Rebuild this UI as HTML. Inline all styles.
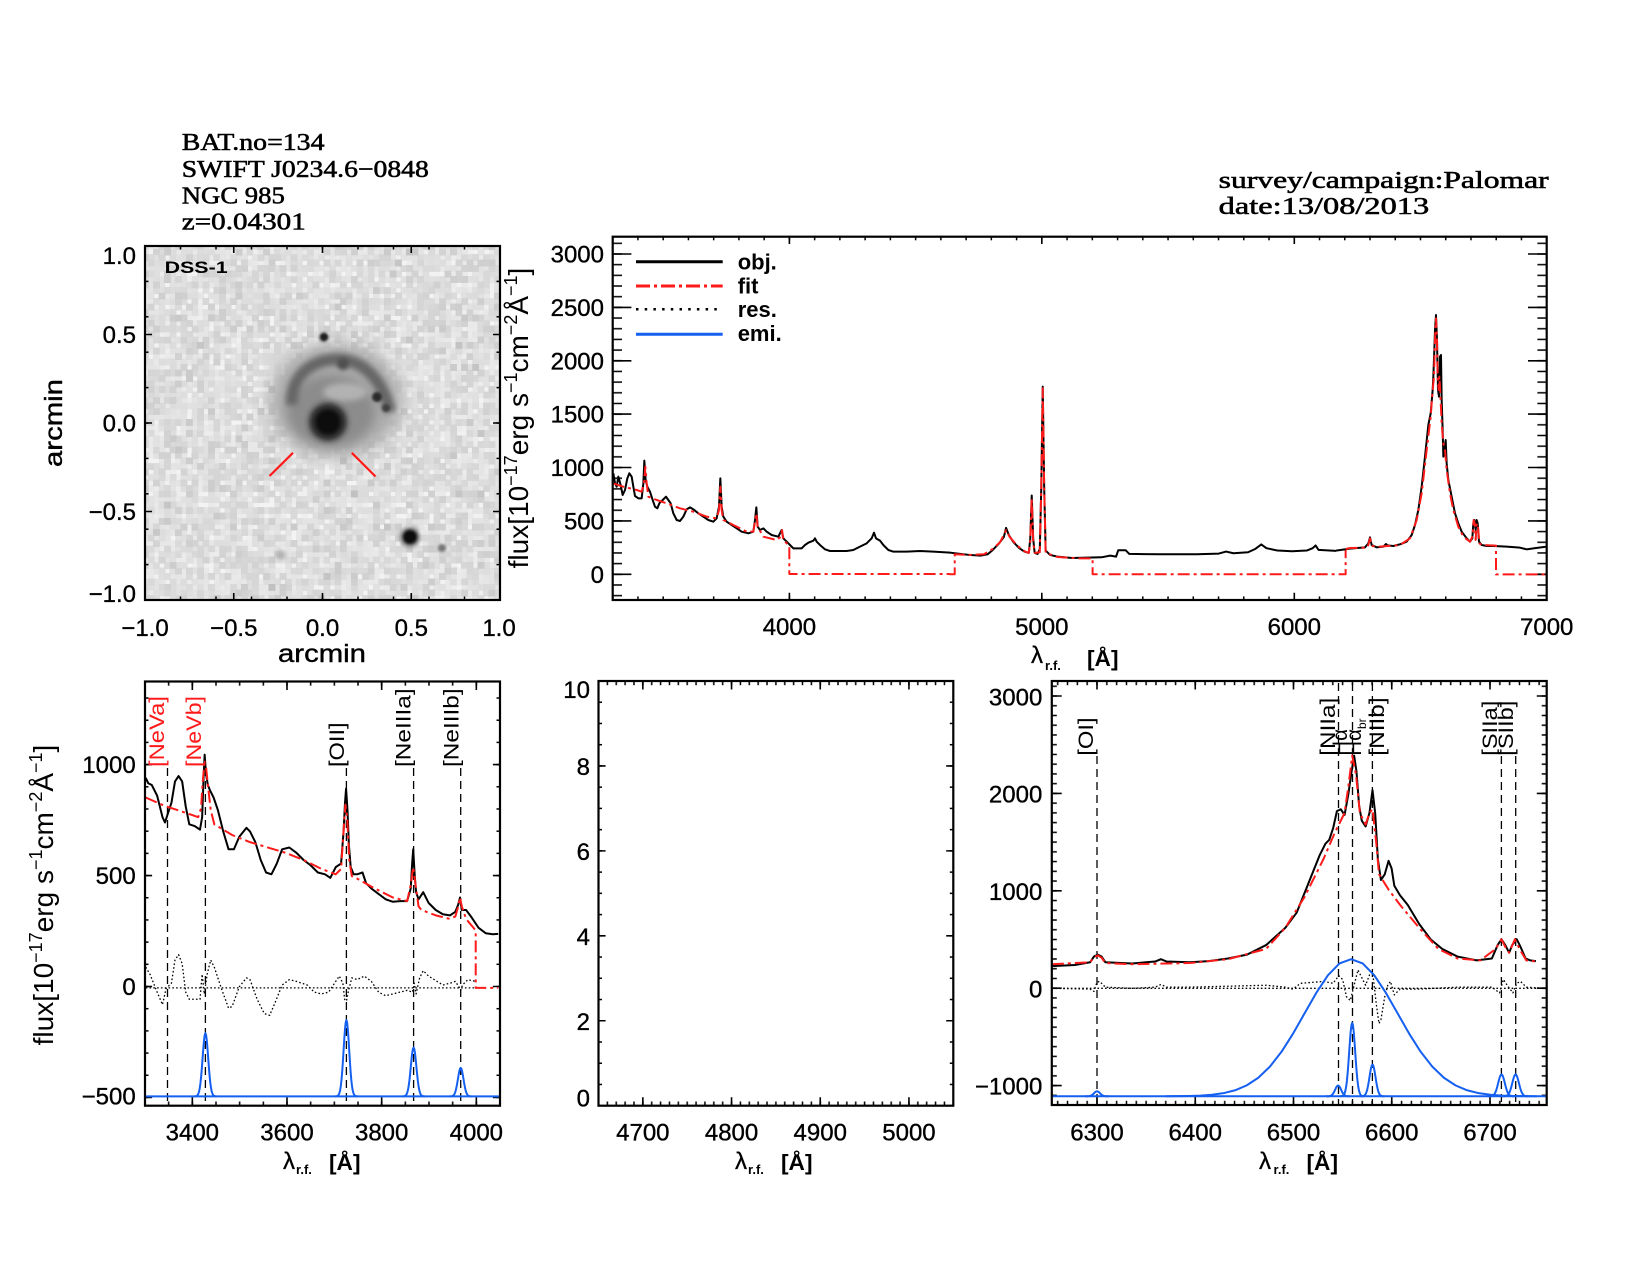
<!DOCTYPE html>
<html><head><meta charset="utf-8"><style>
html,body{margin:0;padding:0;background:#fff;}
svg{display:block;}
text{font-family:"Liberation Sans",sans-serif;fill:#000;}
.tr,.tm{font-size:24px;stroke:#000;stroke-width:0.35px;}
.tr{text-anchor:end;}
.tm{text-anchor:middle;}
.hd{font-family:"Liberation Serif",serif;font-size:24px;stroke:#000;stroke-width:0.55px;}
.lb{font-size:21px;}
.ns{vector-effect:non-scaling-stroke;fill:none;stroke-linejoin:round;}
.obj{stroke:#000;stroke-width:2;}
.fit{stroke:#ff1a1a;stroke-width:2;stroke-dasharray:12 4 3 4;}
.res{stroke:#000;stroke-width:1.3;stroke-dasharray:1.6 2.2;}
.emi{stroke:#1560f0;stroke-width:2;}
.vd{stroke:#000;stroke-width:1.3;stroke-dasharray:8 5;fill:none;}
.ax{fill:none;stroke:#000;stroke-width:2.2;}
.mj{fill:none;stroke:#000;stroke-width:1.6;}
</style></head><body>
<svg width="1650" height="1275" viewBox="0 0 1650 1275" xmlns="http://www.w3.org/2000/svg">
<defs>
<pattern id="p0x" patternUnits="userSpaceOnUse" x="127.25" y="0" width="35.5" height="1275"><rect x="17" y="0" width="1.5" height="1275"/></pattern>
<pattern id="p0y" patternUnits="userSpaceOnUse" x="0" y="228.3" width="1650" height="35.4"><rect x="0" y="16.95" width="1650" height="1.5"/></pattern>
<pattern id="p1x" patternUnits="userSpaceOnUse" x="600.078" y="0" width="25.2432" height="1275"><rect x="11.87" y="0" width="1.5" height="1275"/></pattern>
<pattern id="p1y" patternUnits="userSpaceOnUse" x="0" y="568.961" width="1650" height="10.677"><rect x="0" y="4.589" width="1650" height="1.5"/></pattern>
<pattern id="p2x" patternUnits="userSpaceOnUse" x="133.167" y="0" width="23.6667" height="1275"><rect x="11.083" y="0" width="1.5" height="1275"/></pattern>
<pattern id="p2y" patternUnits="userSpaceOnUse" x="0" y="975.405" width="1650" height="22.19"><rect x="0" y="10.345" width="1650" height="1.5"/></pattern>
<pattern id="p3x" patternUnits="userSpaceOnUse" x="594.065" y="0" width="8.87" height="1275"><rect x="3.685" y="0" width="1.5" height="1275"/></pattern>
<pattern id="p3y" patternUnits="userSpaceOnUse" x="0" y="1095.0825" width="1650" height="21.235"><rect x="0" y="9.8675" width="1650" height="1.5"/></pattern>
<pattern id="p4x" patternUnits="userSpaceOnUse" x="1092.0875" y="0" width="9.825" height="1275"><rect x="4.1625" y="0" width="1.5" height="1275"/></pattern>
<pattern id="p4y" patternUnits="userSpaceOnUse" x="0" y="983.33" width="1650" height="9.74"><rect x="0" y="4.12" width="1650" height="1.5"/></pattern>
<filter id="nz" filterUnits="userSpaceOnUse" primitiveUnits="userSpaceOnUse" x="145" y="246" width="355" height="354">
 <feTurbulence type="fractalNoise" baseFrequency="0.45" numOctaves="1" seed="7" result="t"/>
 <feColorMatrix in="t" type="matrix" values="0 0 0 0 0  0 0 0 0 0  0 0 0 0 0  0.45 0 0 0 -0.17" result="n"/>
 <feFlood flood-color="#000" flood-opacity="1" x="145" y="246" width="1" height="1" result="dot"/>
 <feComposite in="dot" in2="dot" operator="over" x="145" y="246" width="5.55" height="5.55" result="cell"/>
 <feTile in="cell" x="145" y="246" width="355" height="354" result="grid"/>
 <feComposite in="n" in2="grid" operator="in" result="pts"/>
 <feMorphology in="pts" operator="dilate" radius="2.8"/>
</filter>
<filter id="b8" x="-50%" y="-50%" width="200%" height="200%"><feGaussianBlur stdDeviation="8"/></filter>
<filter id="b6" x="-50%" y="-50%" width="200%" height="200%"><feGaussianBlur stdDeviation="5"/></filter>
<filter id="b4" x="-50%" y="-50%" width="200%" height="200%"><feGaussianBlur stdDeviation="3"/></filter>
<filter id="b3" x="-50%" y="-50%" width="200%" height="200%"><feGaussianBlur stdDeviation="3"/></filter>
<filter id="b2" x="-50%" y="-50%" width="200%" height="200%"><feGaussianBlur stdDeviation="2"/></filter>
<filter id="b1" x="-50%" y="-50%" width="200%" height="200%"><feGaussianBlur stdDeviation="1.2"/></filter>
<clipPath id="c0"><rect x="145" y="246" width="355" height="354"/></clipPath>
</defs>
<rect width="1650" height="1275" fill="#fff"/>

<text class="hd" x="181.8" y="150" textLength="142.7" lengthAdjust="spacingAndGlyphs">BAT.no=134</text>
<text class="hd" x="181.8" y="176.8" textLength="247" lengthAdjust="spacingAndGlyphs">SWIFT J0234.6−0848</text>
<text class="hd" x="181.8" y="203.6" textLength="103" lengthAdjust="spacingAndGlyphs">NGC 985</text>
<text class="hd" x="181.8" y="229.3" textLength="124" lengthAdjust="spacingAndGlyphs">z=0.04301</text>
<text class="hd" x="1218.7" y="188.2" textLength="330" lengthAdjust="spacingAndGlyphs">survey/campaign:Palomar</text>
<text class="hd" x="1218.7" y="214.2" textLength="210.5" lengthAdjust="spacingAndGlyphs">date:13/08/2013</text>

<!-- ===== Image panel ===== -->
<g clip-path="url(#c0)">
<rect x="145" y="246" width="355" height="354" fill="#f3f3f3"/>
<rect x="145" y="246" width="355" height="354" fill="#000" filter="url(#nz)"/>
<ellipse cx="336" cy="400" rx="66" ry="57" fill="#aaaaaa" filter="url(#b8)"/>
<ellipse cx="331" cy="411" rx="44" ry="36" fill="#8c8c8c" filter="url(#b6)"/>
<ellipse cx="345" cy="392" rx="22" ry="9" fill="#b2b2b2" filter="url(#b3)"/>
<path d="M292,405 C290,372 318,356 345,360 C368,364 384,385 390,412" fill="none" stroke="#666" stroke-width="12" filter="url(#b4)"/>
<path d="M348,428 L398,428" stroke="#404040" stroke-width="12" stroke-linecap="round" filter="url(#b3)"/>
<circle cx="343" cy="364" r="6" fill="#505050" filter="url(#b2)"/>
<circle cx="377" cy="397" r="5" fill="#2a2a2a" filter="url(#b1)"/>
<circle cx="386" cy="408" r="4" fill="#404040" filter="url(#b1)"/>
<circle cx="328" cy="422" r="19" fill="#262626" filter="url(#b3)"/>
<circle cx="328" cy="422" r="12" fill="#0c0c0c" filter="url(#b1)"/>
<circle cx="324" cy="337" r="4.5" fill="#1a1a1a" filter="url(#b1)"/>
<circle cx="410" cy="537" r="10" fill="#777" filter="url(#b2)"/>
<circle cx="410" cy="537" r="7" fill="#111" filter="url(#b1)"/>
<circle cx="442" cy="548" r="4" fill="#777" filter="url(#b1)"/>
<circle cx="281" cy="555" r="5" fill="#b0b0b0" filter="url(#b2)"/>
</g>
<path d="M269.5,476 L293,452.8 M351.8,452.8 L375.5,476.5" stroke="#ff1a1a" stroke-width="2.2" fill="none"/>
<text x="164.6" y="273" font-family="Liberation Serif, serif" font-weight="bold" font-size="17" textLength="63" lengthAdjust="spacingAndGlyphs">DSS-1</text>
<rect x="146" y="596.5" width="353" height="3.5" fill="url(#p0x)"/>
<rect x="146" y="246" width="353" height="3.5" fill="url(#p0x)"/>
<rect x="145" y="247" width="3.5" height="352" fill="url(#p0y)"/>
<rect x="496.5" y="247" width="3.5" height="352" fill="url(#p0y)"/>
<path class="mj" d="M233.75,600v-7M322.5,600v-7M411.25,600v-7M233.75,246v7M322.5,246v7M411.25,246v7M145,334.5h7M145,423h7M145,511.5h7M500,334.5h-7M500,423h-7M500,511.5h-7"/>
<rect class="ax" x="145" y="246" width="355" height="354"/>
<text class="tr" x="136" y="264">1.0</text>
<text class="tr" x="136" y="343">0.5</text>
<text class="tr" x="136" y="431.3">0.0</text>
<text class="tr" x="136" y="520">−0.5</text>
<text class="tr" x="136" y="602">−1.0</text>
<text class="tm" x="145" y="636">−1.0</text>
<text class="tm" x="233.75" y="636">−0.5</text>
<text class="tm" x="322.5" y="636">0.0</text>
<text class="tm" x="411.25" y="636">0.5</text>
<text class="tm" x="499" y="636">1.0</text>
<text x="278" y="662" font-size="25" stroke="#000" stroke-width="0.4" textLength="88" lengthAdjust="spacingAndGlyphs">arcmin</text>
<text transform="translate(62,467) rotate(-90)" font-size="25" stroke="#000" stroke-width="0.4" textLength="88" lengthAdjust="spacingAndGlyphs">arcmin</text>

<!-- ===== Top spectrum panel ===== -->
<rect x="614" y="596.4" width="931.4" height="3.6" fill="url(#p1x)"/>
<rect x="614" y="236.7" width="931.4" height="3.6" fill="url(#p1x)"/>
<rect x="612.7" y="238" width="9.3" height="360.7" fill="url(#p1y)"/>
<rect x="1537.4" y="238" width="9.3" height="360.7" fill="url(#p1y)"/>
<path class="mj" d="M789.4,600v-7.3M1041.8,600v-7.3M1294.3,600v-7.3M789.4,236.7v7.3M1041.8,236.7v7.3M1294.3,236.7v7.3M612.7,574.3h18.7M612.7,520.9h18.7M612.7,467.5h18.7M612.7,414.1h18.7M612.7,360.8h18.7M612.7,307.4h18.7M612.7,254h18.7M1546.7,574.3h-18.7M1546.7,520.9h-18.7M1546.7,467.5h-18.7M1546.7,414.1h-18.7M1546.7,360.8h-18.7M1546.7,307.4h-18.7M1546.7,254h-18.7"/>
<g transform="translate(500,220) scale(0.333333)">
<path class="ns obj" d="M340,760 L345,790 L350,800 L355,770 L362,795 L368,825 L375,810 L382,775 L388,760 L395,770 L400,800 L405,828 L415,835 L425,835 L430,790 L433,722 L437,780 L442,800 L450,815 L458,840 L465,860 L472,865 L478,850 L488,840 L498,830 L505,840 L512,850 L520,880 L530,900 L540,903 L550,890 L560,868 L570,862 L580,868 L595,880 L610,890 L625,900 L640,905 L650,895 L657,860 L661,775 L665,860 L670,890 L680,905 L695,915 L710,925 L725,935 L745,940 L760,935 L765,900 L769,862 L773,920 L780,930 L790,925 L800,935 L815,945 L835,950 L840,940 L845,930 L850,955 L860,965 L870,975 L880,985 L895,985 L905,985 L915,975 L925,968 L940,962 L945,955 L950,965 L960,975 L975,988 L990,993 L1010,993 L1040,993 L1060,990 L1080,980 L1100,970 L1115,955 L1122,938 L1128,955 L1140,962 L1150,975 L1165,990 L1180,995 L1220,995 L1260,993 L1300,995 L1350,998"/>
<path class="ns fit" d="M338,790 L370,800 L410,810 L425,815 L432,790 L436,740 L440,790 L445,830 L470,840 L500,850 L540,865 L580,875 L620,890 L650,895 L657,870 L661,800 L665,870 L670,900 L700,915 L740,935 L760,935 L765,905 L769,880 L773,920 L790,950 L830,960 L843,950 L846,930 L850,960 L865,975 L868,980 L868,1062 L1350,1062"/>
</g>
<g transform="translate(500,150) scale(0.73342,0.33801)">
<path class="ns obj" d="M613,1191 L620,1193 L640,1198 L655,1200 L665,1196 L672,1183 L680,1165 L687,1145 L690,1118 L694,1140 L700,1160 L708,1178 L715,1188 L721,1192 L723,1150 L725,1022 L727,1150 L729,1192 L733,1195 L736,1180 L738,1000 L740,700 L742,1000 L744,1185 L750,1198 L760,1203 L780,1207 L800,1206 L820,1205 L832,1200 L840,1203 L843,1184 L853,1184 L858,1195 L900,1196 L950,1196 L980,1194 L990,1188 L1000,1193 L1020,1190 L1030,1180 L1038,1167 L1045,1178 L1060,1185 L1080,1187 L1100,1185 L1108,1178 L1112,1170 L1116,1183 L1140,1186"/>
<path class="ns fit" d="M613,1255 L620,1255 L620,1196 L640,1198 L660,1196 L672,1180 L682,1160 L690,1125 L695,1145 L705,1170 L715,1187 L721,1192 L723,1160 L725,1030 L727,1160 L729,1192 L736,1190 L738,1000 L740,705 L742,1000 L744,1192 L760,1204 L790,1208 L808,1208 L808,1255 L1153,1255 L1153,1181"/>
</g>
<g transform="translate(1300,290) scale(0.333333)">
<path class="ns obj" d="M108,782 L150,776 L195,772 L205,760 L210,742 L215,765 L230,772 L250,770 L258,762 L262,766 L280,768 L300,763 L320,755 L335,735 L345,705 L355,660 L365,590 L375,500 L385,405 L392,370 L398,300 L400,260 L403,180 L405,120 L408,75 L411,150 L414,300 L417,320 L420,200 L423,195 L425,330 L428,420 L430,500 L433,480 L437,450 L440,520 L445,570 L455,620 L465,670 L475,700 L485,725 L500,745 L510,755 L517,745 L520,700 L523,690 L527,720 L530,690 L533,700 L537,755 L545,765 L560,768 L580,768 L620,770 L660,773 L680,778 L700,775 L740,770"/>
<path class="ns fit" d="M137,777 L150,774 L200,773 L205,765 L210,745 L215,768 L240,770 L300,765 L330,745 L350,690 L365,610 L380,480 L392,380 L398,300 L402,260 L405,150 L408,85 L411,150 L413,260 L416,300 L418,260 L420,290 L425,400 L430,460 L435,480 L440,540 L450,610 L460,660 L475,710 L490,740 L510,755 L517,740 L521,690 L524,700 L527,750 L530,700 L534,710 L538,760 L545,765 L588,767 L588,853 L740,853"/>
</g>
<rect class="ax" x="612.7" y="236.7" width="934" height="363.3"/>
<path d="M636,261.7H722.7" stroke="#000" stroke-width="3"/>
<path d="M636,286H722.7" stroke="#ff1a1a" stroke-width="3" stroke-dasharray="14 4 3 4"/>
<path d="M636,309.3H722.7" stroke="#000" stroke-width="2.5" stroke-dasharray="2.5 6.2"/>
<path d="M636,334.3H722.7" stroke="#1560f0" stroke-width="3"/>
<text x="737.7" y="269.5" font-size="22" font-weight="bold">obj.</text>
<text x="737.7" y="293.5" font-size="22" font-weight="bold">fit</text>
<text x="737.7" y="317" font-size="22" font-weight="bold">res.</text>
<text x="737.7" y="341" font-size="22" font-weight="bold">emi.</text>
<text class="tr" x="604" y="582.8">0</text>
<text class="tr" x="604" y="529.4">500</text>
<text class="tr" x="604" y="476">1000</text>
<text class="tr" x="604" y="422.6">1500</text>
<text class="tr" x="604" y="369.3">2000</text>
<text class="tr" x="604" y="315.9">2500</text>
<text class="tr" x="604" y="262.5">3000</text>
<text class="tm" x="789.4" y="635">4000</text>
<text class="tm" x="1041.8" y="635">5000</text>
<text class="tm" x="1294.3" y="635">6000</text>
<text class="tm" x="1546.7" y="635">7000</text>
<text x="1031" y="663" font-size="24" stroke="#000" stroke-width="0.3">λ</text>
<text x="1045" y="670" font-size="13" font-weight="bold">r.f.</text>
<text x="1087" y="666" font-family="Liberation Serif, serif" font-weight="bold" font-size="22" textLength="31.5" lengthAdjust="spacingAndGlyphs">[Å]</text>
<text transform="translate(528,418) rotate(-90)" text-anchor="middle" font-size="28">flux[10<tspan font-size="18" dy="-11">−17</tspan><tspan dy="11">erg s</tspan><tspan font-size="18" dy="-11">−1</tspan><tspan dy="11">cm</tspan><tspan font-size="18" dy="-11">−2</tspan><tspan dy="11">Å</tspan><tspan font-size="18" dy="-11">−1</tspan><tspan dy="11">]</tspan></text>

<!-- ===== Bottom-left panel ===== -->
<rect x="146" y="1101.5" width="353" height="4.2" fill="url(#p2x)"/>
<rect x="146" y="681.5" width="353" height="4.2" fill="url(#p2x)"/>
<rect x="145" y="683" width="3.5" height="421.5" fill="url(#p2y)"/>
<rect x="496.5" y="683" width="3.5" height="421.5" fill="url(#p2y)"/>
<path class="mj" d="M192.33,1105.7v-8.5M287,1105.7v-8.5M381.67,1105.7v-8.5M476.33,1105.7v-8.5M192.33,681.5v8.5M287,681.5v8.5M381.67,681.5v8.5M476.33,681.5v8.5M145,764.6h7.1M145,875.55h7.1M145,986.5h7.1M145,1097.45h7.1M500,764.6h-7.1M500,875.55h-7.1M500,986.5h-7.1M500,1097.45h-7.1"/>
<path class="vd" d="M167.5,768V1105M205.4,768V1105M346.4,768V1105M413.6,768V1105M460.7,768V1105"/>
<g transform="translate(0,660) scale(0.357143)">
<path class="ns res" d="M408,918 L1332,918"/>
<path class="ns res" d="M408,860 L420,880 L440,930 L455,965 L465,920 L480,905 L490,840 L500,825 L510,850 L520,930 L530,950 L560,950 L566,880 L572,935 L580,880 L590,840 L600,860 L620,920 L640,975 L650,970 L670,915 L690,890 L700,895 L720,950 L740,990 L755,995 L770,960 L790,910 L810,895 L830,900 L860,910 L880,930 L900,935 L920,930 L940,900 L950,885 L960,905 L965,950 L970,955 L975,930 L985,890 L1000,895 L1020,885 L1040,900 L1060,930 L1080,940 L1100,935 L1140,925 L1155,930 L1160,905 L1165,935 L1175,890 L1185,870 L1200,885 L1240,910 L1260,905 L1275,900 L1285,915 L1290,925 L1295,910 L1310,895 L1332,900"/>
<path class="ns obj" d="M408,330 L415,345 L425,350 L440,380 L455,440 L462,455 L470,430 L480,400 L490,340 L500,325 L510,340 L520,410 L530,460 L545,465 L560,475 L566,440 L570,330 L573,265 L577,320 L582,350 L588,365 L598,385 L610,420 L625,480 L640,530 L655,530 L670,495 L690,470 L700,480 L715,510 L730,560 L745,595 L760,600 L775,570 L790,530 L810,525 L830,540 L850,560 L870,575 L890,595 L910,600 L925,610 L940,580 L955,570 L962,480 L966,400 L969,360 L973,420 L977,520 L982,580 L990,600 L1000,600 L1015,595 L1025,625 L1040,640 L1060,655 L1080,670 L1100,677 L1120,675 L1140,675 L1150,640 L1154,570 L1157,530 L1161,600 L1165,650 L1172,670 L1185,650 L1200,680 L1220,700 L1240,712 L1260,715 L1275,705 L1283,685 L1288,665 L1293,700 L1305,700 L1320,720 L1340,750 L1360,765 L1380,768 L1395,767"/>
<path class="ns fit" d="M408,385 L460,408 L520,428 L555,440 L563,415 L567,350 L572,290 L577,300 L582,350 L590,420 L600,460 L650,490 L700,510 L800,540 L850,560 L900,585 L940,600 L955,585 L962,480 L967,405 L972,440 L978,560 L985,605 L1000,612 L1050,640 L1100,665 L1140,675 L1150,630 L1157,580 L1163,625 L1172,690 L1180,700 L1220,715 L1260,725 L1275,718 L1283,690 L1288,665 L1293,690 L1305,725 L1330,755 L1332,760 L1332,918 L1395,918"/>
</g>
<path class="emi" fill="none" d="M145,1096.4H500"/>
<g class="emi">
<path class="ns" transform="translate(205.4,1096.4) scale(2.8,-63.2)" d="M-4,0 L-3.5,0.0022 L-3.25,0.0051 L-3,0.0111 L-2.75,0.0228 L-2.5,0.0439 L-2.25,0.0796 L-2,0.1353 L-1.75,0.2163 L-1.5,0.3247 L-1.25,0.4578 L-1,0.6065 L-0.75,0.7548 L-0.5,0.8825 L-0.25,0.9692 L0,1 L0.25,0.9692 L0.5,0.8825 L0.75,0.7548 L1,0.6065 L1.25,0.4578 L1.5,0.3247 L1.75,0.2163 L2,0.1353 L2.25,0.0796 L2.5,0.0439 L2.75,0.0228 L3,0.0111 L3.25,0.0051 L3.5,0.0022 L4,0"/>
<path class="ns" transform="translate(346.4,1096.4) scale(2.8,-76.4)" d="M-4,0 L-3.5,0.0022 L-3.25,0.0051 L-3,0.0111 L-2.75,0.0228 L-2.5,0.0439 L-2.25,0.0796 L-2,0.1353 L-1.75,0.2163 L-1.5,0.3247 L-1.25,0.4578 L-1,0.6065 L-0.75,0.7548 L-0.5,0.8825 L-0.25,0.9692 L0,1 L0.25,0.9692 L0.5,0.8825 L0.75,0.7548 L1,0.6065 L1.25,0.4578 L1.5,0.3247 L1.75,0.2163 L2,0.1353 L2.25,0.0796 L2.5,0.0439 L2.75,0.0228 L3,0.0111 L3.25,0.0051 L3.5,0.0022 L4,0"/>
<path class="ns" transform="translate(413.6,1096.4) scale(2.8,-48.9)" d="M-4,0 L-3.5,0.0022 L-3.25,0.0051 L-3,0.0111 L-2.75,0.0228 L-2.5,0.0439 L-2.25,0.0796 L-2,0.1353 L-1.75,0.2163 L-1.5,0.3247 L-1.25,0.4578 L-1,0.6065 L-0.75,0.7548 L-0.5,0.8825 L-0.25,0.9692 L0,1 L0.25,0.9692 L0.5,0.8825 L0.75,0.7548 L1,0.6065 L1.25,0.4578 L1.5,0.3247 L1.75,0.2163 L2,0.1353 L2.25,0.0796 L2.5,0.0439 L2.75,0.0228 L3,0.0111 L3.25,0.0051 L3.5,0.0022 L4,0"/>
<path class="ns" transform="translate(460.7,1096.4) scale(2.8,-28.5)" d="M-4,0 L-3.5,0.0022 L-3.25,0.0051 L-3,0.0111 L-2.75,0.0228 L-2.5,0.0439 L-2.25,0.0796 L-2,0.1353 L-1.75,0.2163 L-1.5,0.3247 L-1.25,0.4578 L-1,0.6065 L-0.75,0.7548 L-0.5,0.8825 L-0.25,0.9692 L0,1 L0.25,0.9692 L0.5,0.8825 L0.75,0.7548 L1,0.6065 L1.25,0.4578 L1.5,0.3247 L1.75,0.2163 L2,0.1353 L2.25,0.0796 L2.5,0.0439 L2.75,0.0228 L3,0.0111 L3.25,0.0051 L3.5,0.0022 L4,0"/>
</g>
<rect class="ax" x="145" y="681.5" width="355" height="424.2"/>
<text class="lb" style="fill:#ff1a1a" transform="translate(164,767) rotate(-90)" textLength="71" lengthAdjust="spacingAndGlyphs">[NeVa]</text>
<text class="lb" style="fill:#ff1a1a" transform="translate(201,767) rotate(-90)" textLength="71" lengthAdjust="spacingAndGlyphs">[NeVb]</text>
<text class="lb" transform="translate(344,767) rotate(-90)" textLength="44.6" lengthAdjust="spacingAndGlyphs">[OII]</text>
<text class="lb" transform="translate(410.3,767) rotate(-90)" textLength="78.6" lengthAdjust="spacingAndGlyphs">[NeIIIa]</text>
<text class="lb" transform="translate(458.5,767) rotate(-90)" textLength="78.6" lengthAdjust="spacingAndGlyphs">[NeIIIb]</text>
<text class="tr" x="135.7" y="772.9">1000</text>
<text class="tr" x="135.7" y="884">500</text>
<text class="tr" x="135.7" y="995">0</text>
<text class="tr" x="135.7" y="1104.6">−500</text>
<text class="tm" x="192.33" y="1140.4">3400</text>
<text class="tm" x="287" y="1140.4">3600</text>
<text class="tm" x="381.67" y="1140.4">3800</text>
<text class="tm" x="476.33" y="1140.4">4000</text>
<text x="283" y="1169" font-size="24" stroke="#000" stroke-width="0.3">λ</text>
<text x="296" y="1174" font-size="13" font-weight="bold">r.f.</text>
<text x="329" y="1170" font-family="Liberation Serif, serif" font-weight="bold" font-size="22" textLength="31.5" lengthAdjust="spacingAndGlyphs">[Å]</text>
<text transform="translate(53,895) rotate(-90)" text-anchor="middle" font-size="28">flux[10<tspan font-size="18" dy="-11">−17</tspan><tspan dy="11">erg s</tspan><tspan font-size="18" dy="-11">−1</tspan><tspan dy="11">cm</tspan><tspan font-size="18" dy="-11">−2</tspan><tspan dy="11">Å</tspan><tspan font-size="18" dy="-11">−1</tspan><tspan dy="11">]</tspan></text>

<!-- ===== Middle panel ===== -->
<rect x="599.5" y="1101.5" width="352.8" height="4.2" fill="url(#p3x)"/>
<rect x="599.5" y="681" width="352.8" height="4.2" fill="url(#p3x)"/>
<rect x="598.5" y="682" width="3.5" height="423" fill="url(#p3y)"/>
<rect x="949.8" y="682" width="3.5" height="423" fill="url(#p3y)"/>
<path class="mj" d="M642.85,1105.7v-8.5M731.55,1105.7v-8.5M820.25,1105.7v-8.5M908.95,1105.7v-8.5M642.85,681v8.5M731.55,681v8.5M820.25,681v8.5M908.95,681v8.5M598.5,1020.76h7.1M598.5,935.82h7.1M598.5,850.88h7.1M598.5,765.94h7.1M953.3,1020.76h-7.1M953.3,935.82h-7.1M953.3,850.88h-7.1M953.3,765.94h-7.1"/>
<rect class="ax" x="598.5" y="681" width="354.8" height="424.7"/>
<text class="tr" x="590" y="698">10</text>
<text class="tr" x="590" y="775">8</text>
<text class="tr" x="590" y="859.9">6</text>
<text class="tr" x="590" y="944.8">4</text>
<text class="tr" x="590" y="1029.8">2</text>
<text class="tr" x="590" y="1106.7">0</text>
<text class="tm" x="642.85" y="1140.4">4700</text>
<text class="tm" x="731.55" y="1140.4">4800</text>
<text class="tm" x="820.25" y="1140.4">4900</text>
<text class="tm" x="908.95" y="1140.4">5000</text>
<text x="735" y="1169" font-size="24" stroke="#000" stroke-width="0.3">λ</text>
<text x="748" y="1174" font-size="13" font-weight="bold">r.f.</text>
<text x="781" y="1170" font-family="Liberation Serif, serif" font-weight="bold" font-size="22" textLength="31.5" lengthAdjust="spacingAndGlyphs">[Å]</text>

<!-- ===== Right panel ===== -->
<rect x="1053" y="1100.8" width="492.7" height="4.2" fill="url(#p4x)"/>
<rect x="1053" y="681" width="492.7" height="4.2" fill="url(#p4x)"/>
<rect x="1051.8" y="682" width="5" height="422" fill="url(#p4y)"/>
<rect x="1541.7" y="682" width="5" height="422" fill="url(#p4y)"/>
<path class="mj" d="M1097,1105v-8.5M1195.25,1105v-8.5M1293.5,1105v-8.5M1391.75,1105v-8.5M1490,1105v-8.5M1097,681v8.5M1195.25,681v8.5M1293.5,681v8.5M1391.75,681v8.5M1490,681v8.5M1051.8,1085.6h9.9M1051.8,988.2h9.9M1051.8,890.8h9.9M1051.8,793.4h9.9M1051.8,696h9.9M1546.7,1085.6h-9.9M1546.7,988.2h-9.9M1546.7,890.8h-9.9M1546.7,793.4h-9.9M1546.7,696h-9.9"/>
<path class="vd" d="M1097,756V1105M1338.5,683V1105M1352.5,683V1105M1372.4,683V1105M1501.4,756V1105M1515.7,756V1105"/>
<g transform="translate(960,660) scale(0.382653)">
<path class="ns res" d="M240,858 L1530,858"/>
<path class="ns res" d="M240,858 L340,860 L350,866 L358,842 L365,840 L380,855 L450,858 L510,855 L525,848 L540,855 L600,855 L800,850 L850,855 L870,860 L890,845 L950,840 L975,845 L990,825 L1000,835 L1010,880 L1020,890 L1030,850 L1040,810 L1050,830 L1060,850 L1075,810 L1080,830 L1088,900 L1095,950 L1100,940 L1110,880 L1118,850 L1125,840 L1135,875 L1150,860 L1200,860 L1300,855 L1390,855 L1410,870 L1420,835 L1430,850 L1445,870 L1455,845 L1465,840 L1480,855 L1530,858"/>
<path class="ns obj" d="M240,800 L300,797 L340,790 L350,775 L360,770 L370,775 L380,790 L450,793 L510,788 L525,782 L540,788 L600,790 L650,787 L700,780 L750,770 L800,745 L850,700 L880,660 L900,610 L920,560 L940,510 L955,480 L965,470 L975,440 L985,395 L995,390 L1005,405 L1015,350 L1022,300 L1030,250 L1036,290 L1043,380 L1050,420 L1060,435 L1070,400 L1078,340 L1085,400 L1092,520 L1100,575 L1110,560 L1120,525 L1128,545 L1135,590 L1150,615 L1170,640 L1200,690 L1230,730 L1260,755 L1300,775 L1350,785 L1390,780 L1405,745 L1415,730 L1425,745 L1435,765 L1443,745 L1455,730 L1465,750 L1478,780 L1490,785 L1505,787"/>
<path class="ns fit" d="M240,795 L340,790 L350,777 L360,772 L370,778 L380,792 L450,795 L600,792 L700,782 L800,755 L850,700 L900,620 L950,520 L980,450 L990,430 L1005,400 L1015,330 L1025,250 L1035,300 L1045,400 L1060,430 L1070,400 L1078,390 L1088,480 L1095,560 L1120,600 L1150,640 L1200,700 L1250,755 L1300,780 L1360,785 L1400,755 L1415,730 L1425,750 L1435,765 L1450,730 L1465,760 L1480,785 L1505,788"/>
</g>
<path class="emi" fill="none" d="M1051.8,1096.3H1546.7"/>
<g class="emi">
<path class="ns" transform="translate(1351.1,1096.3) scale(46.4,-137.1)" d="M-4,0 L-3.5,0.0022 L-3.25,0.0051 L-3,0.0111 L-2.75,0.0228 L-2.5,0.0439 L-2.25,0.0796 L-2,0.1353 L-1.75,0.2163 L-1.5,0.3247 L-1.25,0.4578 L-1,0.6065 L-0.75,0.7548 L-0.5,0.8825 L-0.25,0.9692 L0,1 L0.25,0.9692 L0.5,0.8825 L0.75,0.7548 L1,0.6065 L1.25,0.4578 L1.5,0.3247 L1.75,0.2163 L2,0.1353 L2.25,0.0796 L2.5,0.0439 L2.75,0.0228 L3,0.0111 L3.25,0.0051 L3.5,0.0022 L4,0"/>
<path class="ns" transform="translate(1097,1096.3) scale(3,-5)" d="M-4,0 L-3.5,0.0022 L-3.25,0.0051 L-3,0.0111 L-2.75,0.0228 L-2.5,0.0439 L-2.25,0.0796 L-2,0.1353 L-1.75,0.2163 L-1.5,0.3247 L-1.25,0.4578 L-1,0.6065 L-0.75,0.7548 L-0.5,0.8825 L-0.25,0.9692 L0,1 L0.25,0.9692 L0.5,0.8825 L0.75,0.7548 L1,0.6065 L1.25,0.4578 L1.5,0.3247 L1.75,0.2163 L2,0.1353 L2.25,0.0796 L2.5,0.0439 L2.75,0.0228 L3,0.0111 L3.25,0.0051 L3.5,0.0022 L4,0"/>
<path class="ns" transform="translate(1338.1,1096.3) scale(3,-10.8)" d="M-4,0 L-3.5,0.0022 L-3.25,0.0051 L-3,0.0111 L-2.75,0.0228 L-2.5,0.0439 L-2.25,0.0796 L-2,0.1353 L-1.75,0.2163 L-1.5,0.3247 L-1.25,0.4578 L-1,0.6065 L-0.75,0.7548 L-0.5,0.8825 L-0.25,0.9692 L0,1 L0.25,0.9692 L0.5,0.8825 L0.75,0.7548 L1,0.6065 L1.25,0.4578 L1.5,0.3247 L1.75,0.2163 L2,0.1353 L2.25,0.0796 L2.5,0.0439 L2.75,0.0228 L3,0.0111 L3.25,0.0051 L3.5,0.0022 L4,0"/>
<path class="ns" transform="translate(1352.2,1096.3) scale(3,-73.5)" d="M-4,0 L-3.5,0.0022 L-3.25,0.0051 L-3,0.0111 L-2.75,0.0228 L-2.5,0.0439 L-2.25,0.0796 L-2,0.1353 L-1.75,0.2163 L-1.5,0.3247 L-1.25,0.4578 L-1,0.6065 L-0.75,0.7548 L-0.5,0.8825 L-0.25,0.9692 L0,1 L0.25,0.9692 L0.5,0.8825 L0.75,0.7548 L1,0.6065 L1.25,0.4578 L1.5,0.3247 L1.75,0.2163 L2,0.1353 L2.25,0.0796 L2.5,0.0439 L2.75,0.0228 L3,0.0111 L3.25,0.0051 L3.5,0.0022 L4,0"/>
<path class="ns" transform="translate(1372.5,1096.3) scale(3,-31.8)" d="M-4,0 L-3.5,0.0022 L-3.25,0.0051 L-3,0.0111 L-2.75,0.0228 L-2.5,0.0439 L-2.25,0.0796 L-2,0.1353 L-1.75,0.2163 L-1.5,0.3247 L-1.25,0.4578 L-1,0.6065 L-0.75,0.7548 L-0.5,0.8825 L-0.25,0.9692 L0,1 L0.25,0.9692 L0.5,0.8825 L0.75,0.7548 L1,0.6065 L1.25,0.4578 L1.5,0.3247 L1.75,0.2163 L2,0.1353 L2.25,0.0796 L2.5,0.0439 L2.75,0.0228 L3,0.0111 L3.25,0.0051 L3.5,0.0022 L4,0"/>
<path class="ns" transform="translate(1501.5,1096.3) scale(3.3,-21.9)" d="M-4,0 L-3.5,0.0022 L-3.25,0.0051 L-3,0.0111 L-2.75,0.0228 L-2.5,0.0439 L-2.25,0.0796 L-2,0.1353 L-1.75,0.2163 L-1.5,0.3247 L-1.25,0.4578 L-1,0.6065 L-0.75,0.7548 L-0.5,0.8825 L-0.25,0.9692 L0,1 L0.25,0.9692 L0.5,0.8825 L0.75,0.7548 L1,0.6065 L1.25,0.4578 L1.5,0.3247 L1.75,0.2163 L2,0.1353 L2.25,0.0796 L2.5,0.0439 L2.75,0.0228 L3,0.0111 L3.25,0.0051 L3.5,0.0022 L4,0"/>
<path class="ns" transform="translate(1515.6,1096.3) scale(3.3,-21.9)" d="M-4,0 L-3.5,0.0022 L-3.25,0.0051 L-3,0.0111 L-2.75,0.0228 L-2.5,0.0439 L-2.25,0.0796 L-2,0.1353 L-1.75,0.2163 L-1.5,0.3247 L-1.25,0.4578 L-1,0.6065 L-0.75,0.7548 L-0.5,0.8825 L-0.25,0.9692 L0,1 L0.25,0.9692 L0.5,0.8825 L0.75,0.7548 L1,0.6065 L1.25,0.4578 L1.5,0.3247 L1.75,0.2163 L2,0.1353 L2.25,0.0796 L2.5,0.0439 L2.75,0.0228 L3,0.0111 L3.25,0.0051 L3.5,0.0022 L4,0"/>
</g>
<rect class="ax" x="1051.8" y="681" width="494.9" height="424"/>
<text class="lb" transform="translate(1093,755.7) rotate(-90)" textLength="38.3" lengthAdjust="spacingAndGlyphs">[OI]</text>
<text class="lb" transform="translate(1335,755.7) rotate(-90)" textLength="58" lengthAdjust="spacingAndGlyphs">[NIIa]</text>
<text class="lb" transform="translate(1347,755.7) rotate(-90)" textLength="26.7" lengthAdjust="spacingAndGlyphs">Hα</text>
<text class="lb" transform="translate(1361,755.7) rotate(-90)" textLength="26.7" lengthAdjust="spacingAndGlyphs">Hα</text>
<text font-size="12" transform="translate(1366,729) rotate(-90)">br</text>
<text class="lb" transform="translate(1384,755.7) rotate(-90)" textLength="58.3" lengthAdjust="spacingAndGlyphs">[NIIb]</text>
<text class="lb" transform="translate(1497,755.7) rotate(-90)" textLength="55" lengthAdjust="spacingAndGlyphs">[SIIa]</text>
<text class="lb" transform="translate(1513,755.7) rotate(-90)" textLength="55" lengthAdjust="spacingAndGlyphs">[SIIb]</text>
<text class="tr" x="1042.3" y="705.5">3000</text>
<text class="tr" x="1042.3" y="802.6">2000</text>
<text class="tr" x="1042.3" y="900">1000</text>
<text class="tr" x="1042.3" y="997.4">0</text>
<text class="tr" x="1042.3" y="1094.6">−1000</text>
<text class="tm" x="1097" y="1140.4">6300</text>
<text class="tm" x="1195.25" y="1140.4">6400</text>
<text class="tm" x="1293.5" y="1140.4">6500</text>
<text class="tm" x="1391.75" y="1140.4">6600</text>
<text class="tm" x="1490" y="1140.4">6700</text>
<text x="1259" y="1169" font-size="24" stroke="#000" stroke-width="0.3">λ</text>
<text x="1273.5" y="1174" font-size="13" font-weight="bold">r.f.</text>
<text x="1306.5" y="1170" font-family="Liberation Serif, serif" font-weight="bold" font-size="22" textLength="31.5" lengthAdjust="spacingAndGlyphs">[Å]</text>
</svg>
</body></html>
